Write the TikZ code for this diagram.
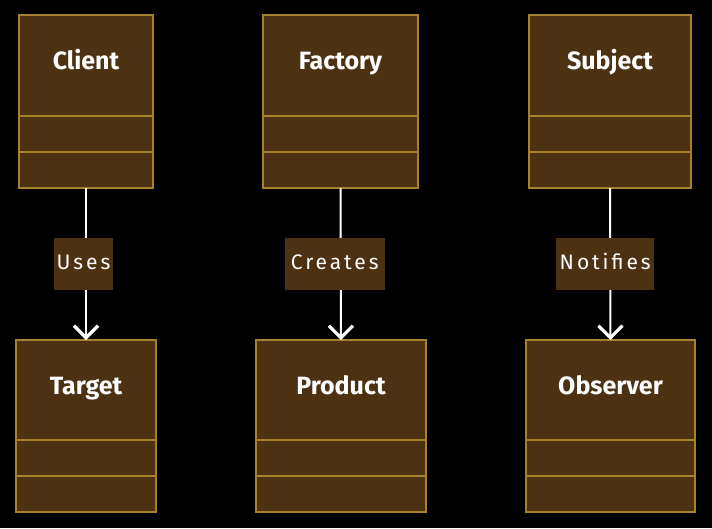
\documentclass[tikz,border=0pt]{standalone}
\usepackage{fontspec}
\setmainfont{Fira Sans}
\newfontfamily\lblfont[LetterSpace=14]{Fira Sans}
\usetikzlibrary{arrows.meta}
\definecolor{boxfill}{RGB}{77,49,19}
\definecolor{boxedge}{RGB}{166,130,44}
\tikzset{
  clstitle/.style={draw=boxedge, fill=boxfill, line width=1.4pt, text=white,
    font=\fontsize{25}{28}\selectfont\bfseries, inner sep=0pt, outer sep=0pt,
    text height=18pt, text depth=10pt, anchor=north},
  clscomp/.style={draw=boxedge, fill=boxfill, line width=1.4pt, inner sep=0pt,
    outer sep=0pt, minimum height=36pt, anchor=north},
  arr/.style={draw=white, line width=2pt,
    -{Straight Barb[length=12pt,width=24pt,line width=3.2pt]}},
  lbl/.style={fill=boxfill, text=white, inner sep=0pt, minimum height=52pt,
    text height=15pt, text depth=4pt,
    font=\lblfont\fontsize{21}{24}\selectfont}
}
\begin{document}
\begin{tikzpicture}[x=1pt,y=-1pt]
\fill[black] (0,0) rectangle (712,528);
\useasboundingbox (0,0) rectangle (712,528);
% top row
\node[clstitle, minimum width=134pt, minimum height=101pt] (client) at (86,15) {Client};
\node[clscomp, minimum width=134pt] (clientA) at (client.south) {};
\node[clscomp, minimum width=134pt] (clientM) at (clientA.south) {};
\node[clstitle, minimum width=155pt, minimum height=101pt] (factory) at (340.5,15) {Factory};
\node[clscomp, minimum width=155pt] (factoryA) at (factory.south) {};
\node[clscomp, minimum width=155pt] (factoryM) at (factoryA.south) {};
\node[clstitle, minimum width=162pt, minimum height=101pt] (subject) at (610,15) {Subject};
\node[clscomp, minimum width=162pt] (subjectA) at (subject.south) {};
\node[clscomp, minimum width=162pt] (subjectM) at (subjectA.south) {};
% bottom row
\node[clstitle, minimum width=140pt, minimum height=100pt] (target) at (86,340) {Target};
\node[clscomp, minimum width=140pt] (targetA) at (target.south) {};
\node[clscomp, minimum width=140pt] (targetM) at (targetA.south) {};
\node[clstitle, minimum width=170pt, minimum height=100pt] (product) at (341,340) {Product};
\node[clscomp, minimum width=170pt] (productA) at (product.south) {};
\node[clscomp, minimum width=170pt] (productM) at (productA.south) {};
\node[clstitle, minimum width=169pt, minimum height=100pt] (observer) at (610.5,340) {Observer};
\node[clscomp, minimum width=169pt] (observerA) at (observer.south) {};
\node[clscomp, minimum width=169pt] (observerM) at (observerA.south) {};
% connectors
\draw[arr] (clientM.south) -- (target.north)
  node[lbl, midway, xshift=-2.5pt, minimum width=59pt] {Uses};
\draw[arr] (factoryM.south) -- (product.north)
  node[lbl, midway, xshift=-6pt, minimum width=100pt] {Creates};
\draw[arr] (subjectM.south) -- (observer.north)
  node[lbl, midway, xshift=-5pt, minimum width=98pt] {Notifies};
\end{tikzpicture}
\end{document}
